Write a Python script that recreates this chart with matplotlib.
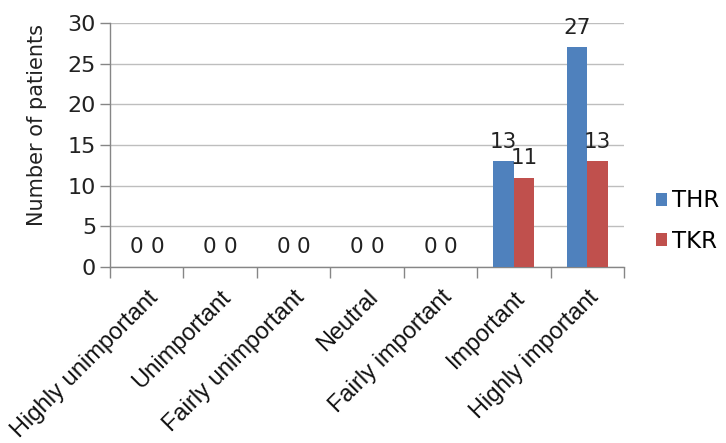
import matplotlib
matplotlib.use("Agg")
import matplotlib.pyplot as plt
import numpy as np
from matplotlib.patches import Patch

categories = ["Highly unimportant", "Unimportant", "Fairly unimportant", "Neutral",
              "Fairly important", "Important", "Highly important"]
thr = [0, 0, 0, 0, 0, 13, 27]
tkr = [0, 0, 0, 0, 0, 11, 13]
series_names = ["THR", "TKR"]
colors = ["#4F81BD", "#C0504D"]
yticks = [0, 5, 10, 15, 20, 25, 30]

fig = plt.figure(figsize=(7.26, 4.43), dpi=100)
ax = fig.add_axes([110/726, 1-267/443, 514/726, 244/443])

x = np.arange(len(categories))
w = 0.28
b1 = ax.bar(x - w/2, thr, w, color=colors[0], zorder=3)
b2 = ax.bar(x + w/2, tkr, w, color=colors[1], zorder=3)

for bars, vals in ((b1, thr), (b2, tkr)):
    for rect, v in zip(bars, vals):
        ax.annotate(str(v), (rect.get_x() + rect.get_width()/2, v),
                    xytext=(0, 7), textcoords="offset points",
                    ha="center", va="bottom", fontsize=15.5, family="DejaVu Sans",
                    color="#222222")

ax.set_xlim(-0.5, len(categories) - 0.5)
ax.set_ylim(0, 30)
ax.set_yticks(yticks)
ax.set_yticklabels([str(t) for t in yticks], fontsize=16, family="DejaVu Sans", color="#222222")
ax.yaxis.grid(True, color="#BEBEBE", linewidth=1, zorder=0)
ax.set_axisbelow(True)

ax.set_xticks(np.arange(len(categories) + 1) - 0.5, minor=False)
ax.set_xticklabels([])
ax.set_xticks(x, minor=True)
ax.set_xticklabels(categories, minor=True, rotation=45, ha="right",
                   rotation_mode="anchor", fontsize=17, family="Liberation Sans",
                   color="#111111")
ax.tick_params(axis="x", which="minor", length=0, pad=14)
ax.tick_params(axis="x", which="major", length=8, color="#868686", width=1)
ax.tick_params(axis="y", length=7, color="#868686", width=1, pad=3)

for s in ["top", "right"]:
    ax.spines[s].set_visible(False)
for s in ["left", "bottom"]:
    ax.spines[s].set_color("#868686")
    ax.spines[s].set_linewidth(1)

ax.set_ylabel("Number of patients", fontsize=15, family="DejaVu Sans", color="#222222", labelpad=6)
ax.yaxis.set_label_coords(-0.122, 0.58)

handles = [Patch(facecolor=c) for c in colors]
fig.legend(handles, series_names, loc="center left", bbox_to_anchor=(656/726, 1-221/443),
           frameon=False, prop={"family": "DejaVu Sans", "size": 16.5},
           handlelength=0.5, handleheight=0.5, handletextpad=0.2, labelspacing=0.75,
           borderpad=0, borderaxespad=0)

fig.savefig("out.png", dpi=100)
